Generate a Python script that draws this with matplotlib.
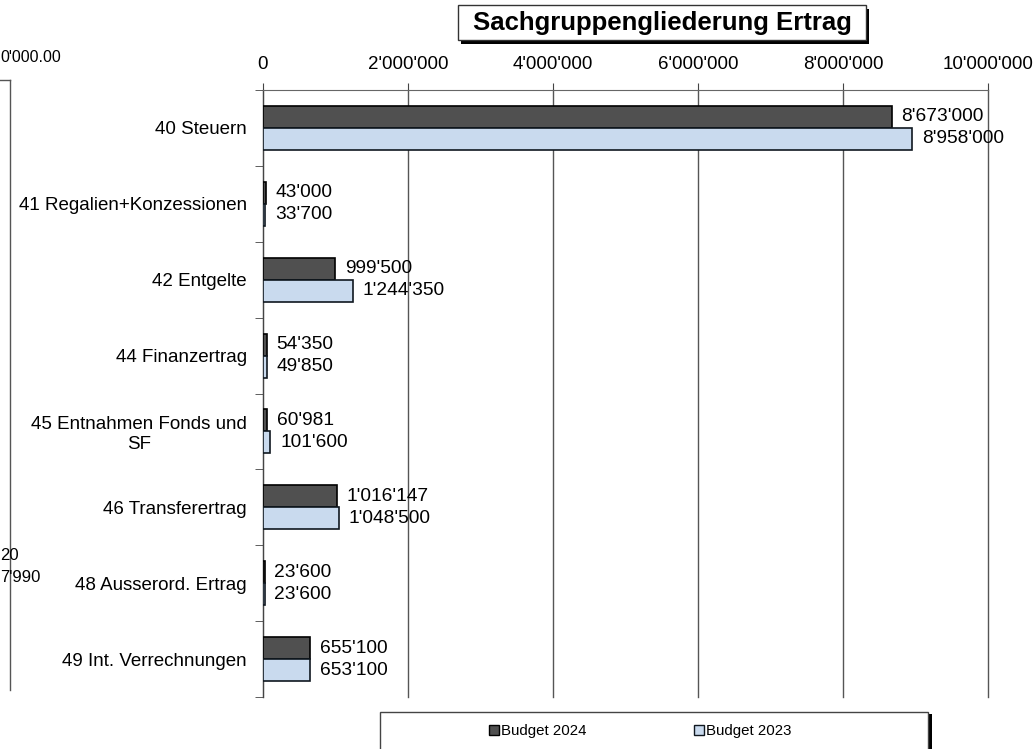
import numpy as np
import matplotlib.pyplot as plt
from matplotlib.patches import Rectangle

plt.rcParams['font.family'] = ['Liberation Sans', 'DejaVu Sans']

categories = ['40 Steuern', '41 Regalien+Konzessionen', '42 Entgelte', '44 Finanzertrag',
              '45 Entnahmen Fonds und\nSF', '46 Transferertrag', '48 Ausserord. Ertrag',
              '49 Int. Verrechnungen']
budget_2024 = [8673000, 43000, 999500, 54350, 60981, 1016147, 23600, 655100]
budget_2023 = [8958000, 33700, 1244350, 49850, 101600, 1048500, 23600, 653100]
xticks = [0, 2000000, 4000000, 6000000, 8000000, 10000000]


def fmt(v):
    return f'{v:,.0f}'.replace(',', "'")


W, H = 1036, 749
fig = plt.figure(figsize=(W / 100, H / 100), dpi=100)
ax = fig.add_axes([263 / W, 1 - 697 / H, (988 - 263) / W, (697 - 90) / H])

y = np.arange(len(categories))
h = 0.29
ax.barh(y - h / 2, budget_2024, height=h, color='#505050', edgecolor='black', linewidth=1.2, zorder=3)
ax.barh(y + h / 2, budget_2023, height=h, color='#c9daee', edgecolor='#101820', linewidth=1.2, zorder=3)

for i in range(len(categories)):
    ax.annotate(fmt(budget_2024[i]), (budget_2024[i], y[i] - h / 2), xytext=(7, 0),
                textcoords='offset points', va='center', ha='left', fontsize=13.8)
    ax.annotate(fmt(budget_2023[i]), (budget_2023[i], y[i] + h / 2), xytext=(7, 0),
                textcoords='offset points', va='center', ha='left', fontsize=13.8)

ax.set_xlim(0, 10000000)
ax.set_ylim(len(categories) - 0.5, -0.5)
ax.xaxis.tick_top()
ax.set_xticks(xticks)
ax.set_xticklabels([fmt(v) for v in xticks], fontsize=13.5)
ax.tick_params(axis='x', length=5, color='#444444', pad=7)
ax.grid(axis='x', color='#555555', linewidth=1, zorder=0)
for gl in ax.get_xgridlines():
    gl.set_clip_on(False)

ax.set_yticks(y)
ax.set_yticklabels(categories, fontsize=13.5)
for lab in ax.get_yticklabels():
    lab.set_multialignment('center')
ax.set_yticks(np.arange(len(categories) + 1) - 0.5, minor=True)
ax.tick_params(axis='y', which='major', length=0, pad=11.5)
ax.tick_params(axis='y', which='minor', length=6, color='#444444')
for s in ['right', 'bottom']:
    ax.spines[s].set_visible(False)
ax.spines['left'].set_color('#444444')
ax.spines['top'].set_color('#666666')

# title box with shadow
fig.patches.append(Rectangle((461 / W, 1 - 44 / H), 408 / W, 35 / H, transform=fig.transFigure,
                             facecolor='black', edgecolor='none', zorder=1))
fig.patches.append(Rectangle((458 / W, 1 - 40 / H), 408 / W, 35 / H, transform=fig.transFigure,
                             facecolor='white', edgecolor='#333333', linewidth=1, zorder=2))
fig.text(662 / W, 1 - 23 / H, 'Sachgruppengliederung Ertrag', ha='center', va='center',
         fontsize=18.5, fontweight='bold', zorder=3)

# legend box
fig.patches.append(Rectangle((383 / W, -0.01), 549 / W, 0.01 + (749 - 714) / H, transform=fig.transFigure,
                             facecolor='black', edgecolor='none', zorder=1))
fig.patches.append(Rectangle((380 / W, -0.01), 548 / W, 0.01 + (749 - 712) / H, transform=fig.transFigure,
                             facecolor='white', edgecolor='#444444', linewidth=1, zorder=2))
handles = [Rectangle((0, 0), 1, 1, facecolor='#505050', edgecolor='black'),
           Rectangle((0, 0), 1, 1, facecolor='#c9daee', edgecolor='#101820')]
leg = fig.legend(handles, ['Budget 2024', 'Budget 2023'], loc='center', ncol=2,
                 bbox_to_anchor=(640 / W, 1 - 731 / H), frameon=False, fontsize=10.8,
                 handlelength=0.65, handleheight=0.65, handletextpad=0.12, columnspacing=7.2)

# fragment of neighbouring chart at the left edge
fig.add_artist(plt.Line2D([10 / W, 10 / W], [1 - 690 / H, 1 - 80 / H], color='#555555', linewidth=1))
fig.add_artist(plt.Line2D([0, 10 / W], [1 - 80 / H, 1 - 80 / H], color='#555555', linewidth=1))
fig.text(0, 1 - 58 / H, "0'000.00", ha='left', va='center', fontsize=11.5)
fig.text(0, 1 - 555 / H, '20', ha='left', va='center', fontsize=12)
fig.text(0, 1 - 578 / H, "7'990", ha='left', va='center', fontsize=12)

fig.savefig('out.png', dpi=100)
